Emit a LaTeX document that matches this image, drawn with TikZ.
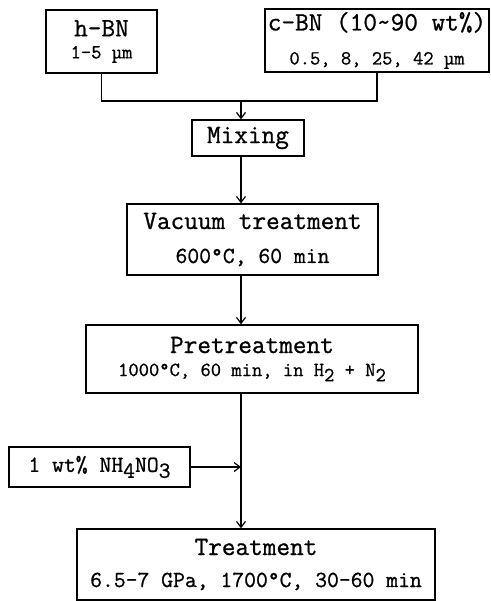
\documentclass[tikz,border=0pt]{standalone}
\usepackage{fontspec}
\newfontfamily\boxfont{Latin Modern Mono}[FakeBold=0.9]
\usetikzlibrary{arrows.meta}

\newcommand{\hd}{\fontsize{26.5}{28}\selectfont}
\newcommand{\sm}{\fontsize{23}{26}\selectfont}
\newcommand{\tn}{\fontsize{20}{23}\selectfont}
\newcommand{\lo}[1]{\raisebox{-0.6ex}{#1}}

\tikzset{
    stepbox/.style={draw=black, line width=1.3pt, inner sep=0pt, align=center,
        font=\boxfont\fontsize{26.5}{30}\selectfont},
    flow/.style={line width=1.2pt, -{Straight Barb[length=6pt, width=9pt, line width=1.2pt]}},
    merge/.style={line width=1.2pt}
}

\begin{document}
\begin{tikzpicture}[x=1pt, y=-1pt]
        \useasboundingbox (0,0) rectangle (490,601);

        % NODES
        % starting powders
        \node[stepbox, minimum width=111pt, minimum height=63pt] (hBN) at (101.5,41.5)
            {{\hd h-BN}\\[-8pt]{\tn 1-5 µm}};
        \node[stepbox, minimum width=224pt, minimum height=63pt] (cBN) at (377,40.5)
            {{\hd c-BN (10\textasciitilde90 wt\%)}\\[4pt]{\tn 0.5, 8, 25, 42 µm}};

        % spine of the flow
        \coordinate (spine) at (241,101);

        % process steps
        \node[stepbox, minimum width=112pt, minimum height=36pt] (mixing) at (248,138) {\hd Mixing};
        \node[stepbox, minimum width=251pt, minimum height=71pt] (vacuum) at (252.5,239.5)
            {{\hd Vacuum treatment}\\[4pt]{\sm 600°C, 60 min}};
        \node[stepbox, minimum width=332pt, minimum height=68pt] (pretreat) at (252,359)
            {{\hd Pretreatment}\\[-7pt]{\tn 1000°C, 60 min, in H\lo{2} + N\lo{2}}};
        \node[stepbox, minimum width=181pt, minimum height=40pt] (additive) at (99.5,467)
            {\sm 1 wt\% NH\lo{4}NO\lo{3}};
        \node[stepbox, minimum width=358pt, minimum height=71pt] (treatment) at (256,564.5)
            {{\hd Treatment}\\[2pt]{\sm 6.5-7 GPa, 1700°C, 30-60 min}};

        % ARROWS
        \draw[merge] (hBN.south) |- (spine);
        \draw[merge] (cBN.south) |- (spine);
        \draw[flow] (spine) -- (mixing.north -| spine);
        \draw[flow] (mixing.south -| spine) -- (vacuum.north -| spine);
        \draw[flow] (vacuum.south -| spine) -- (pretreat.north -| spine);
        \draw[flow] (pretreat.south -| spine) -- (treatment.north -| spine);
        \draw[flow] (additive.east) -- (additive.east -| spine);
\end{tikzpicture}
\end{document}
